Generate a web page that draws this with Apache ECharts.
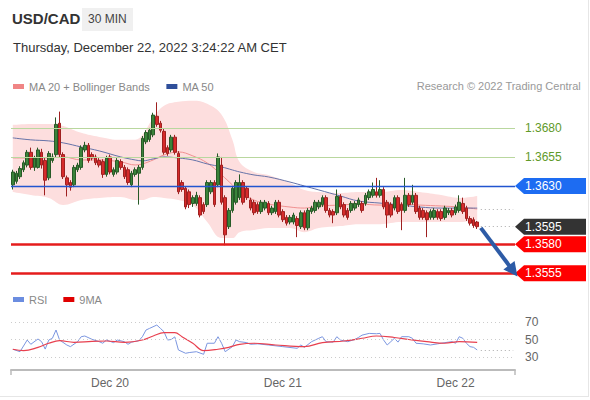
<!DOCTYPE html>
<html><head><meta charset="utf-8">
<script src="https://cdn.jsdelivr.net/npm/echarts@6/dist/echarts.min.js"></script>
<style>html,body{margin:0;padding:0;background:#fff}#c{width:590px;height:400px}</style>
</head><body><div id="c"></div>
<script>
// ---- data ----
const startTime = '2022-12-19 10:30';
const slotCount = 140;
const opens = [1.3631,1.3634,1.3638,1.3644,1.3648,1.3659,1.3646,1.3646,1.3659,1.3652,1.3637,1.3652,1.3657,1.3684,1.3657,1.3637,1.3633,1.3631,1.3644,1.3646,1.3661,1.3665,1.3657,1.3655,1.3652,1.3651,1.3640,1.3655,1.3640,1.3642,1.3651,1.3646,1.3644,1.3631,1.3640,1.3641,1.3646,1.3668,1.3670,1.3674,1.3690,1.3684,1.3677,1.3663,1.3661,1.3672,1.3658,1.3633,1.3628,1.3625,1.3615,1.3615,1.3620,1.3614,1.3614,1.3625,1.3633,1.3631,1.3648,1.3620,1.3595,1.3609,1.3616,1.3620,1.3633,1.3628,1.3618,1.3616,1.3614,1.3608,1.3611,1.3615,1.3607,1.3608,1.3616,1.3608,1.3603,1.3599,1.3599,1.3602,1.3595,1.3607,1.3594,1.3608,1.3609,1.3612,1.3614,1.3620,1.3609,1.3608,1.3607,1.3621,1.3614,1.3609,1.3609,1.3611,1.3614,1.3615,1.3615,1.3620,1.3622,1.3625,1.3622,1.3627,1.3616,1.3614,1.3611,1.3620,1.3614,1.3609,1.3622,1.3616,1.3622,1.3611,1.3609,1.3607,1.3603,1.3603,1.3608,1.3608,1.3603,1.3607,1.3609,1.3607,1.3609,1.3615,1.3611,1.3602,1.3601,1.3599];
const closes = [1.3642,1.3641,1.3645,1.3650,1.3659,1.3646,1.3654,1.3661,1.3648,1.3635,1.3658,1.3655,1.3683,1.3657,1.3638,1.3631,1.3629,1.3646,1.3648,1.3663,1.3665,1.3652,1.3654,1.3650,1.3648,1.3640,1.3654,1.3642,1.3644,1.3652,1.3646,1.3638,1.3633,1.3641,1.3644,1.3646,1.3671,1.3676,1.3678,1.3691,1.3683,1.3678,1.3659,1.3658,1.3672,1.3659,1.3625,1.3627,1.3612,1.3614,1.3620,1.3622,1.3605,1.3608,1.3633,1.3633,1.3614,1.3655,1.3616,1.3588,1.3609,1.3628,1.3633,1.3633,1.3616,1.3620,1.3611,1.3607,1.3608,1.3616,1.3616,1.3607,1.3611,1.3616,1.3605,1.3601,1.3598,1.3603,1.3605,1.3596,1.3607,1.3594,1.3609,1.3611,1.3616,1.3616,1.3620,1.3609,1.3605,1.3605,1.3621,1.3612,1.3605,1.3603,1.3615,1.3615,1.3618,1.3609,1.3622,1.3625,1.3627,1.3622,1.3627,1.3612,1.3605,1.3605,1.3620,1.3608,1.3609,1.3622,1.3614,1.3622,1.3608,1.3603,1.3603,1.3601,1.3608,1.3609,1.3603,1.3602,1.3611,1.3609,1.3605,1.3612,1.3616,1.3608,1.3602,1.3598,1.3596,1.3595];
const lows = [1.3627,1.3632,1.3636,1.3642,1.3646,1.3644,1.3643,1.3645,1.3645,1.3622,1.3635,1.3650,1.3655,1.3655,1.3636,1.3621,1.3626,1.3629,1.3642,1.3644,1.3659,1.3650,1.3652,1.3648,1.3646,1.3637,1.3638,1.3640,1.3638,1.3640,1.3644,1.3636,1.3631,1.3629,1.3638,1.3614,1.3644,1.3666,1.3668,1.3672,1.3681,1.3676,1.3657,1.3656,1.3659,1.3657,1.3623,1.3625,1.3610,1.3611,1.3612,1.3613,1.3603,1.3606,1.3612,1.3623,1.3612,1.3629,1.3614,1.3579,1.3593,1.3607,1.3614,1.3618,1.3614,1.3618,1.3609,1.3605,1.3606,1.3606,1.3609,1.3605,1.3605,1.3606,1.3603,1.3599,1.3596,1.3597,1.3597,1.3586,1.3593,1.3592,1.3592,1.3606,1.3607,1.3610,1.3612,1.3607,1.3603,1.3598,1.3605,1.3610,1.3603,1.3601,1.3607,1.3609,1.3612,1.3607,1.3613,1.3618,1.3620,1.3620,1.3620,1.3610,1.3594,1.3603,1.3609,1.3606,1.3592,1.3607,1.3612,1.3614,1.3606,1.3601,1.3601,1.3586,1.3601,1.3601,1.3601,1.3600,1.3601,1.3605,1.3603,1.3605,1.3607,1.3606,1.3600,1.3596,1.3594,1.3593];
const highs = [1.3644,1.3643,1.3647,1.3652,1.3661,1.3663,1.3656,1.3663,1.3662,1.3654,1.3660,1.3658,1.3689,1.3694,1.3659,1.3639,1.3635,1.3648,1.3650,1.3665,1.3668,1.3667,1.3659,1.3657,1.3654,1.3653,1.3656,1.3657,1.3646,1.3654,1.3653,1.3648,1.3646,1.3643,1.3646,1.3648,1.3673,1.3678,1.3680,1.3693,1.3702,1.3686,1.3679,1.3665,1.3674,1.3674,1.3660,1.3635,1.3630,1.3627,1.3622,1.3625,1.3622,1.3616,1.3635,1.3635,1.3635,1.3658,1.3655,1.3622,1.3611,1.3630,1.3635,1.3640,1.3635,1.3630,1.3620,1.3618,1.3616,1.3618,1.3618,1.3617,1.3613,1.3618,1.3618,1.3610,1.3605,1.3605,1.3607,1.3604,1.3609,1.3609,1.3611,1.3613,1.3618,1.3618,1.3622,1.3622,1.3611,1.3610,1.3627,1.3623,1.3616,1.3611,1.3617,1.3617,1.3620,1.3617,1.3624,1.3627,1.3633,1.3637,1.3635,1.3629,1.3618,1.3616,1.3622,1.3622,1.3616,1.3637,1.3624,1.3631,1.3624,1.3613,1.3611,1.3609,1.3610,1.3611,1.3610,1.3610,1.3613,1.3611,1.3611,1.3614,1.3622,1.3620,1.3613,1.3604,1.3603,1.3600];

const bandIdx = [0,5,10,14,19,24,30,34,36,39,42,46,50,54,58,61,63,67,71,77,81,85,91,96,102,108,113,119,124,129];
const bbUpper = [1.36826,1.36834,1.36834,1.36817,1.36757,1.36722,1.36697,1.36697,1.36740,1.36886,1.36990,1.37024,1.37033,1.37007,1.36912,1.36697,1.36507,1.36421,1.36395,1.36326,1.36266,1.36248,1.36240,1.36248,1.36248,1.36266,1.36248,1.36222,1.36197,1.36214];
const bbLower = [1.36248,1.36222,1.36197,1.36136,1.36179,1.36197,1.36205,1.36179,1.36179,1.36205,1.36197,1.36179,1.36136,1.35990,1.35852,1.35852,1.35903,1.35921,1.35938,1.35938,1.35903,1.35938,1.35955,1.35972,1.35972,1.35990,1.35990,1.35990,1.35990,1.36007];
const ma20 = [1.36541,1.36541,1.36541,1.36550,1.36524,1.36524,1.36507,1.36481,1.36490,1.36524,1.36567,1.36593,1.36559,1.36498,1.36395,1.36309,1.36248,1.36179,1.36145,1.36119,1.36110,1.36128,1.36136,1.36145,1.36136,1.36145,1.36136,1.36128,1.36119,1.36102];
const ma50 = [1.36714,1.36697,1.36688,1.36671,1.36636,1.36602,1.36550,1.36524,1.36516,1.36533,1.36550,1.36541,1.36524,1.36490,1.36464,1.36438,1.36421,1.36395,1.36378,1.36334,1.36300,1.36266,1.36214,1.36171,1.36153,1.36136,1.36119,1.36110,1.36110,1.36110];

const rsiIdx = [0,2,4,5,7,8,9,10,11,12,13,15,16,18,19,20,22,24,25,26,28,29,31,32,33,35,36,37,38,40,41,42,43,44,45,46,48,49,51,53,54,56,57,58,59,61,62,63,65,66,68,71,75,79,80,81,83,85,86,87,89,90,91,93,95,96,97,99,101,102,103,104,105,106,107,108,110,111,112,114,116,118,119,121,122,123,124,125,126,127,128,129];
const rsiVal = [38.8,36,49.4,44.5,50.6,47.5,39,49.4,51.4,60.9,49.4,43.7,41.8,47.5,53.2,54,50.2,47.5,45.7,49.4,46.4,49.4,47.5,44.5,47,48.6,53.2,60.9,62.8,66.6,62.8,58.9,49.4,50,53,38,34.2,35,36,33,45.7,45.7,53.2,45.7,36,41.8,49.4,47.5,46.4,44.5,45,43.7,41.8,39.9,43.7,41,47.5,51.4,53.2,47.5,47,53.2,49.4,47.5,50,52.3,55,57,56.6,57,49.4,43.7,47.5,51.4,47,53.2,53.2,51.4,45.7,45,43.7,45,45.7,47,47.5,45.7,53.2,51.4,45.7,41.8,41,38];
const ma9Idx = [0,3,7,10,13,17,22,26,31,36,39,42,45,47,50,53,57,60,63,67,73,81,86,92,97,101,106,110,115,120,124,129];
const ma9Val = [38.8,37.2,41,45.7,48.6,46.8,47.9,48.3,46.8,49.4,54,57.8,57.8,53.2,45.7,37.2,38.8,41,44.5,45.7,43.7,41.8,46.4,48.3,51.4,54,52.3,50,47.5,45.7,47.5,46.8];

const resistances = [1.3680, 1.3655];
const pivot = 1.3630;
const supports = [1.3580, 1.3555];
const rsiLevels = [70, 50, 30];
const arrowFrom = [130, 1.3594];
const arrowTo = [139, 1.3557];

// ---- build ----
const categories = [];
{
  const t0 = new Date(startTime.replace(' ', 'T') + ':00Z').getTime();
  for (let i = 0; i < slotCount; i++) {
    const d = new Date(t0 + i * 1800000);
    const p = n => String(n).padStart(2, '0');
    categories.push(d.getUTCFullYear() + '-' + p(d.getUTCMonth() + 1) + '-' + p(d.getUTCDate()) + ' ' + p(d.getUTCHours()) + ':' + p(d.getUTCMinutes()));
  }
}
const candles = opens.map((o, i) => [o, closes[i], lows[i], highs[i]]);
const pairs = (idx, v) => idx.map((x, i) => [x, v[i]]);
const bandDiff = bbUpper.map((u, i) => +(u - bbLower[i]).toFixed(6));
const lastClose = closes[closes.length - 1];
const lastMa20 = ma20[ma20.length - 1];
const lastRsi = rsiVal[rsiVal.length - 1];
const lastIdx = closes.length;
const endIdx = slotCount - 1;

const FONT = '"Liberation Sans", Arial, sans-serif';
const dotted = { color: '#aaa', width: 1, type: [1, 3] };

const chart = echarts.init(document.getElementById('c'), null, { renderer: 'svg', width: 590, height: 400 });
const option = {
  animation: false,
  backgroundColor: '#fff',
  textStyle: { fontFamily: FONT },
  grid: [
    { left: 11, right: 75, top: 93, bottom: 121 },
    { left: 11, right: 75, top: 309, bottom: 30 }
  ],
  legend: [
    { left: 8, top: 76, itemWidth: 11, itemHeight: 5, itemGap: 16, icon: 'rect', selectedMode: false,
      textStyle: { color: '#888', fontSize: 11, fontFamily: FONT },
      data: [{ name: 'MA 20 + Bollinger Bands', itemStyle: { color: '#f08585' } }, { name: 'MA 50', itemStyle: { color: '#2f4f9a' } }] },
    { left: 8, top: 289, itemWidth: 11, itemHeight: 5, itemGap: 16, icon: 'rect', selectedMode: false,
      textStyle: { color: '#888', fontSize: 11, fontFamily: FONT },
      data: [{ name: 'RSI', itemStyle: { color: '#6b8de0' } }, { name: '9MA', itemStyle: { color: '#e00000' } }] }
  ],
  xAxis: [
    { type: 'category', gridIndex: 0, data: categories, boundaryGap: true, show: false },
    { type: 'category', gridIndex: 1, data: categories, boundaryGap: true,
      axisLine: { lineStyle: { color: '#bbb', width: 2 } }, axisTick: { show: false },
      axisLabel: { color: '#666', fontSize: 12, margin: 7, fontFamily: FONT,
        interval: (i, v) => v.endsWith('00:00'),
        formatter: v => 'Dec ' + Number(v.slice(8, 10)) } }
  ],
  yAxis: [
    { type: 'value', gridIndex: 0, min: 1.3550, max: 1.3710, show: false },
    { type: 'value', gridIndex: 1, min: 15, max: 85, show: false }
  ],
  series: [
    { name: 'bbBase', type: 'line', xAxisIndex: 0, yAxisIndex: 0, stack: 'bb', data: pairs(bandIdx, bbLower), smooth: 0.4,
      symbol: 'none', lineStyle: { width: 0, opacity: 0 }, silent: true, z: 1 },
    { name: 'bbFill', type: 'line', xAxisIndex: 0, yAxisIndex: 0, stack: 'bb', data: pairs(bandIdx, bandDiff), smooth: 0.4,
      symbol: 'none', lineStyle: { width: 0, opacity: 0 }, areaStyle: { color: '#fddede', opacity: 1 }, silent: true, z: 1 },
    { name: 'MA 20 + Bollinger Bands', type: 'line', xAxisIndex: 0, yAxisIndex: 0, data: pairs(bandIdx, ma20), smooth: 0.4,
      symbol: 'none', lineStyle: { color: '#f09090', width: 1 }, z: 2 },
    { name: 'MA 50', type: 'line', xAxisIndex: 0, yAxisIndex: 0, data: pairs(bandIdx, ma50), smooth: 0.4,
      symbol: 'none', lineStyle: { color: '#6673a8', width: 1 }, z: 2,
      markLine: { silent: true, symbol: 'none', animation: false, precision: 5, z: 5,
        data: [
          ...resistances.map(v => ({ yAxis: v, lineStyle: { color: '#b9d79e', width: 1, type: 'solid' },
            label: { show: true, position: 'end', distance: 10, color: '#5f9a2a', fontSize: 12, fontFamily: FONT, formatter: () => v.toFixed(4) } })),
          { yAxis: pivot, lineStyle: { color: '#2255d0', width: 1.3, type: 'solid' }, label: { show: false } },
          ...supports.map(v => ({ yAxis: v, lineStyle: { color: '#e51c1c', width: 2.5, type: 'solid' }, label: { show: false } })),
          [{ coord: [lastIdx, lastMa20], lineStyle: dotted, label: { show: false } }, { coord: [endIdx, lastMa20] }],
          [{ coord: [lastIdx, lastClose], lineStyle: dotted, label: { show: false } }, { coord: [endIdx, lastClose] }],
          [{ coord: arrowFrom, symbol: 'none', lineStyle: { color: '#2d5ba6', width: 4, type: 'solid' }, label: { show: false } },
           { coord: arrowTo, symbol: 'triangle', symbolSize: [14, 14] }]
        ] } },
    { name: 'USD/CAD', type: 'candlestick', xAxisIndex: 0, yAxisIndex: 0, data: candles, barWidth: 3, z: 3,
      itemStyle: { color: '#3a833a', color0: '#d62b2b', borderColor: '#275a27', borderColor0: '#9f2020', borderWidth: 1 } },
    { name: 'RSI', type: 'line', xAxisIndex: 1, yAxisIndex: 1, data: pairs(rsiIdx, rsiVal), symbol: 'none',
      lineStyle: { color: '#7b96e0', width: 1 }, z: 2,
      markLine: { silent: true, symbol: 'none', animation: false, precision: 2,
        data: [
          ...rsiLevels.map(v => ({ yAxis: v, lineStyle: { color: '#ccc', width: 1, type: [1, 3] },
            label: { show: true, position: 'end', distance: 10, color: '#666', fontSize: 12, fontFamily: FONT, formatter: () => String(v) } })),
          [{ coord: [lastIdx, lastRsi], lineStyle: dotted, label: { show: false } }, { coord: [endIdx, lastRsi] }]
        ] } },
    { name: '9MA', type: 'line', xAxisIndex: 1, yAxisIndex: 1, data: pairs(ma9Idx, ma9Val), smooth: 0.4, symbol: 'none',
      lineStyle: { color: '#e8404f', width: 1.2 }, z: 3 }
  ]
};
chart.setOption(option);

// ---- tags & header (positions derived from the axes) ----
const gridRight = 590 - 75;
function tag(val, fill) {
  const y = chart.convertToPixel({ yAxisIndex: 0 }, val);
  const h = 8;
  return { type: 'group', children: [
    { type: 'polygon', shape: { points: [[gridRight, y], [gridRight + 9, y - h], [586, y - h], [586, y + h], [gridRight + 9, y + h]] }, style: { fill } },
    { type: 'text', x: gridRight + 10, y: y, style: { text: val.toFixed(4), fill: '#fff', font: '12px ' + FONT, textVerticalAlign: 'middle' } }
  ] };
}
const xa = chart.convertToPixel({ xAxisIndex: 1 }, 0) - 1.8;
const axisY = 400 - 30;
chart.setOption({ graphic: [
  { type: 'text', left: 12, top: 11, style: { text: 'USD/CAD', fill: '#333', font: 'bold 15px ' + FONT } },
  { type: 'rect', shape: { x: 82, y: 8, width: 51, height: 23 }, style: { fill: '#f0f0f0' } },
  { type: 'text', left: 88, top: 13, style: { text: '30 MIN', fill: '#444', font: '12px ' + FONT } },
  { type: 'text', left: 13, top: 41, style: { text: 'Thursday, December 22, 2022 3:24:22 AM CET', fill: '#333', font: '13px ' + FONT } },
  { type: 'text', right: 9, top: 80, style: { text: 'Research © 2022 Trading Central', fill: '#999', font: '11px ' + FONT } },
  tag(pivot, '#1d6cf2'),
  tag(lastClose, '#333'),
  tag(supports[0], '#ff0000'),
  tag(supports[1], '#ff0000'),
  { type: 'line', shape: { x1: xa, y1: axisY, x2: xa, y2: axisY + 5 }, style: { stroke: '#bbb', lineWidth: 1.5 } },
  { type: 'line', shape: { x1: gridRight, y1: axisY, x2: gridRight, y2: axisY + 5 }, style: { stroke: '#bbb', lineWidth: 1.5 } },
  { type: 'line', shape: { x1: 588.5, y1: 0, x2: 588.5, y2: 397 }, style: { stroke: '#e6e6e6', lineWidth: 1 } },
  { type: 'line', shape: { x1: 0, y1: 396.5, x2: 589, y2: 396.5 }, style: { stroke: '#e6e6e6', lineWidth: 1 } }
] });
</script></body></html>
